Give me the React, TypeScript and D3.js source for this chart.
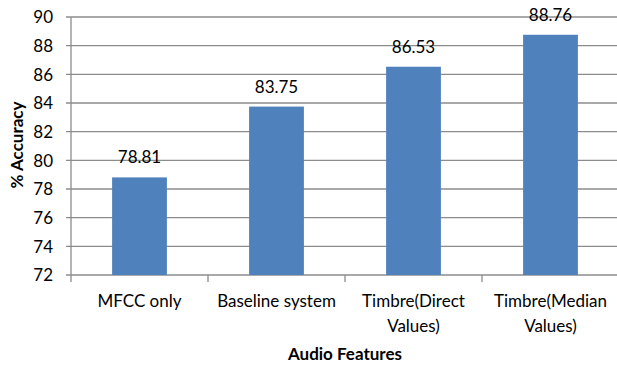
import React from "react";
import * as d3 from "d3";

const categories: string[][] = [
  ["MFCC only"],
  ["Baseline system"],
  ["Timbre(Direct", "Values)"],
  ["Timbre(Median", "Values)"],
];
const values: number[] = [78.81, 83.75, 86.53, 88.76];
const yTicks: number[] = [72, 74, 76, 78, 80, 82, 84, 86, 88, 90];

const W = 617;
const H = 368;
const left = 71;
const right = 619;
const top = 17;
const bottom = 275;
const FONT = "Lato, 'Open Sans', sans-serif";
const FS = 17;

export default function App() {
  const x = d3
    .scaleBand<number>()
    .domain(d3.range(values.length))
    .range([left, right])
    .paddingInner(0.6)
    .paddingOuter(0.3);
  const y = d3.scaleLinear().domain([72, 90]).range([bottom, top]);
  const step = (right - left) / values.length;
  const boundaries = d3.range(values.length + 1).map((i) => left + i * step);

  return (
    <svg
      width={W}
      height={H}
      style={{ position: "absolute", left: 0, top: 0, background: "#fff" }}
    >
      {yTicks.map((t) => (
        <g key={t}>
          <line
            x1={left - 5}
            x2={right}
            y1={y(t)}
            y2={y(t)}
            stroke="#8c8c8c"
            strokeWidth={1.3}
          />
          <text
            x={53}
            y={y(t)}
            dy="0.38em"
            textAnchor="end"
            fontFamily={FONT}
            fontSize={FS}
            fill="#000"
          >
            {t}
          </text>
        </g>
      ))}
      <line x1={left} x2={left} y1={top} y2={bottom} stroke="#8c8c8c" strokeWidth={1.3} />
      {boundaries.map((bx, i) => (
        <line
          key={i}
          x1={bx}
          x2={bx}
          y1={bottom}
          y2={bottom + 7}
          stroke="#8c8c8c"
          strokeWidth={1.3}
        />
      ))}
      {values.map((v, i) => (
        <g key={i}>
          <rect
            x={x(i)}
            y={y(v)}
            width={x.bandwidth()}
            height={bottom - y(v)}
            fill="#4F81BD"
          />
          <text
            x={(x(i) as number) + x.bandwidth() / 2}
            y={y(v) - 14}
            textAnchor="middle"
            fontFamily={FONT}
            fontSize={FS}
            fill="#000"
          >
            {v.toFixed(2)}
          </text>
        </g>
      ))}
      {categories.map((lines, i) => (
        <text
          key={i}
          x={(x(i) as number) + x.bandwidth() / 2}
          textAnchor="middle"
          fontFamily={FONT}
          fontSize={FS}
          fill="#000"
        >
          {lines.map((l, j) => (
            <tspan key={j} x={(x(i) as number) + x.bandwidth() / 2} y={307 + j * 25}>
              {l}
            </tspan>
          ))}
        </text>
      ))}
      <text
        x={345}
        y={360}
        textAnchor="middle"
        fontFamily={FONT}
        fontSize={17}
        fontWeight="bold"
        fill="#000"
      >
        Audio Features
      </text>
      <text
        transform={`translate(23,145) rotate(-90)`}
        textAnchor="middle"
        fontFamily={FONT}
        fontSize={17}
        fontWeight="bold"
        fill="#000"
      >
        % Accuracy
      </text>
    </svg>
  );
}
